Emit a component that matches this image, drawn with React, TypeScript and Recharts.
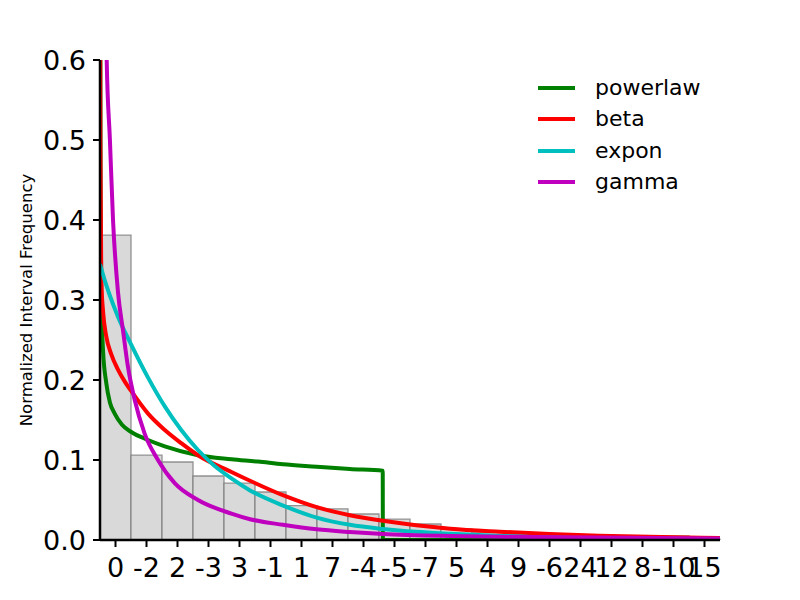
import React from 'react';
import { ComposedChart, Bar, Line, XAxis, YAxis } from 'recharts';

// Histogram categories (x tick labels) and normalized frequencies
const categories = ['0', '-2', '2', '-3', '3', '-1', '1', '7', '-4', '-5', '-7', '5', '4', '9', '-6', '24', '12', '8', '-10', '15'];
const frequencies = [0.381, 0.106, 0.0975, 0.08, 0.071, 0.06, 0.043, 0.039, 0.0325, 0.026, 0.02, 0.014, 0.01, 0.007, 0.005, 0.003, 0.003, 0.002, 0.005, 0.001];

// Fitted curves, position measured in bins along the x axis
const powerlawX = [0, 0.02, 0.042, 0.097, 0.203, 0.32, 0.474, 0.71, 1.01, 1.55, 2.09, 3.16, 4.24, 5.1, 5.9, 6.99, 8.06, 9.12, 9.125, 20];
const powerlawY = [0.9, 0.42, 0.3, 0.2375, 0.196, 0.172, 0.158, 0.144, 0.135, 0.125, 0.117, 0.106, 0.101, 0.098, 0.0946, 0.0917, 0.0888, 0.0867, 0, 0];

const betaX = [0, 0.01, 0.042, 0.1, 0.2, 0.365, 0.58, 0.8, 1.01, 1.55, 2.09, 2.62, 3.16, 4.24, 4.84, 5.9, 6.99, 8.06, 9.13, 10.2, 11.3, 12.9, 14.5, 16.1, 17.7, 20];
const betaY = [0.9, 0.5, 0.325, 0.285, 0.255, 0.232, 0.213, 0.198, 0.186, 0.158, 0.1375, 0.121, 0.106, 0.085, 0.074, 0.056, 0.041, 0.031, 0.024, 0.0185, 0.0142, 0.0104, 0.0074, 0.0054, 0.004, 0.0025];

const exponX = [0, 0.042, 0.58, 1.01, 1.55, 2.09, 2.62, 3.16, 3.7, 4.24, 4.84, 5.91, 6.99, 8.06, 9.13, 10.2, 11.3, 12.9, 14.5, 16.1, 20];
const exponY = [0.345, 0.339, 0.279, 0.244, 0.203, 0.167, 0.1375, 0.1125, 0.0925, 0.077, 0.062, 0.043, 0.028, 0.019, 0.0138, 0.0102, 0.0078, 0.005, 0.003, 0.002, 0.001];

const gammaX = [0.15, 0.216, 0.32, 0.42, 0.58, 0.74, 0.9, 1.12, 1.44, 1.87, 2.41, 3.16, 4.24, 4.84, 5.9, 6.99, 8.06, 9.13, 11.3, 12.9, 16.1, 20];
const gammaY = [0.8, 0.6, 0.5, 0.4, 0.31, 0.2625, 0.217, 0.175, 0.133, 0.1, 0.071, 0.05, 0.033, 0.026, 0.019, 0.0133, 0.01, 0.0075, 0.005, 0.004, 0.003, 0.002];

const yTicks = [0, 0.1, 0.2, 0.3, 0.4, 0.5, 0.6];

const histData = categories.map((label, i) => ({ label, freq: frequencies[i] }));
const zip = (xs: number[], ys: number[]) => xs.map((x, i) => ({ x, y: ys[i] }));

const series = [
  { name: 'powerlaw', color: '#008000', data: zip(powerlawX, powerlawY) },
  { name: 'beta', color: '#ff0000', data: zip(betaX, betaY) },
  { name: 'expon', color: '#00bfbf', data: zip(exponX, exponY) },
  { name: 'gamma', color: '#bf00bf', data: zip(gammaX, gammaY) },
];

const FONT = '"DejaVu Sans", sans-serif';

const LegendBox = () => (
  <div style={{ position: 'absolute', left: 538, top: 72, fontFamily: FONT, fontSize: 22, color: '#000' }}>
    {series.map((s) => (
      <div key={s.name} style={{ display: 'flex', alignItems: 'center', height: 31.5 }}>
        <div style={{ width: 37, height: 4, background: s.color }} />
        <span style={{ marginLeft: 20, lineHeight: '22px' }}>{s.name}</span>
      </div>
    ))}
  </div>
);

const YLabel = (props: any) => {
  const vb = props.viewBox || { x: 0, y: 60, width: 100, height: 480 };
  const cx = vb.x + 26;
  const cy = vb.y + vb.height / 2;
  return (
    <text
      x={cx}
      y={cy}
      transform={`rotate(-90, ${cx}, ${cy})`}
      textAnchor="middle"
      dominantBaseline="central"
      style={{ fontFamily: FONT, fontSize: 16.5, fill: '#000' }}
    >
      Normalized Interval Frequency
    </text>
  );
};

export default function App() {
  return (
    <div style={{ position: 'absolute', left: 0, top: 0, width: 800, height: 600, background: '#fff' }}>
      <ComposedChart
        width={800}
        height={600}
        data={histData}
        margin={{ top: 60, right: 80, left: 0, bottom: 0 }}
        barCategoryGap={0}
        barGap={0}
      >
        <XAxis
          xAxisId="cat"
          dataKey="label"
          type="category"
          interval={0}
          height={60}
          tickSize={7}
          tickMargin={11}
          axisLine={{ stroke: '#000', strokeWidth: 2.5 }}
          tickLine={{ stroke: '#000', strokeWidth: 2 }}
          tick={{ fill: '#000', fontSize: 27, fontFamily: FONT }}
        />
        <XAxis xAxisId="num" dataKey="x" type="number" domain={[0, 20]} allowDataOverflow hide />
        <YAxis
          width={100}
          domain={[0, 0.6]}
          ticks={yTicks}
          allowDataOverflow
          tickFormatter={(v: number) => v.toFixed(1)}
          tickSize={7}
          tickMargin={7}
          axisLine={{ stroke: '#000', strokeWidth: 2.5 }}
          tickLine={{ stroke: '#000', strokeWidth: 2 }}
          tick={{ fill: '#000', fontSize: 27, fontFamily: FONT }}
          label={<YLabel />}
        />
        <Bar
          xAxisId="cat"
          dataKey="freq"
          fill="#d9d9d9"
          stroke="#7a7a7a"
          strokeOpacity={0.8}
          strokeWidth={1.3}
          isAnimationActive={false}
        />
        {series.map((s) => (
          <Line
            key={s.name}
            xAxisId="num"
            data={s.data}
            dataKey="y"
            name={s.name}
            type="monotone"
            stroke={s.color}
            strokeWidth={4}
            dot={false}
            activeDot={false}
            isAnimationActive={false}
          />
        ))}
      </ComposedChart>
      <LegendBox />
    </div>
  );
}
